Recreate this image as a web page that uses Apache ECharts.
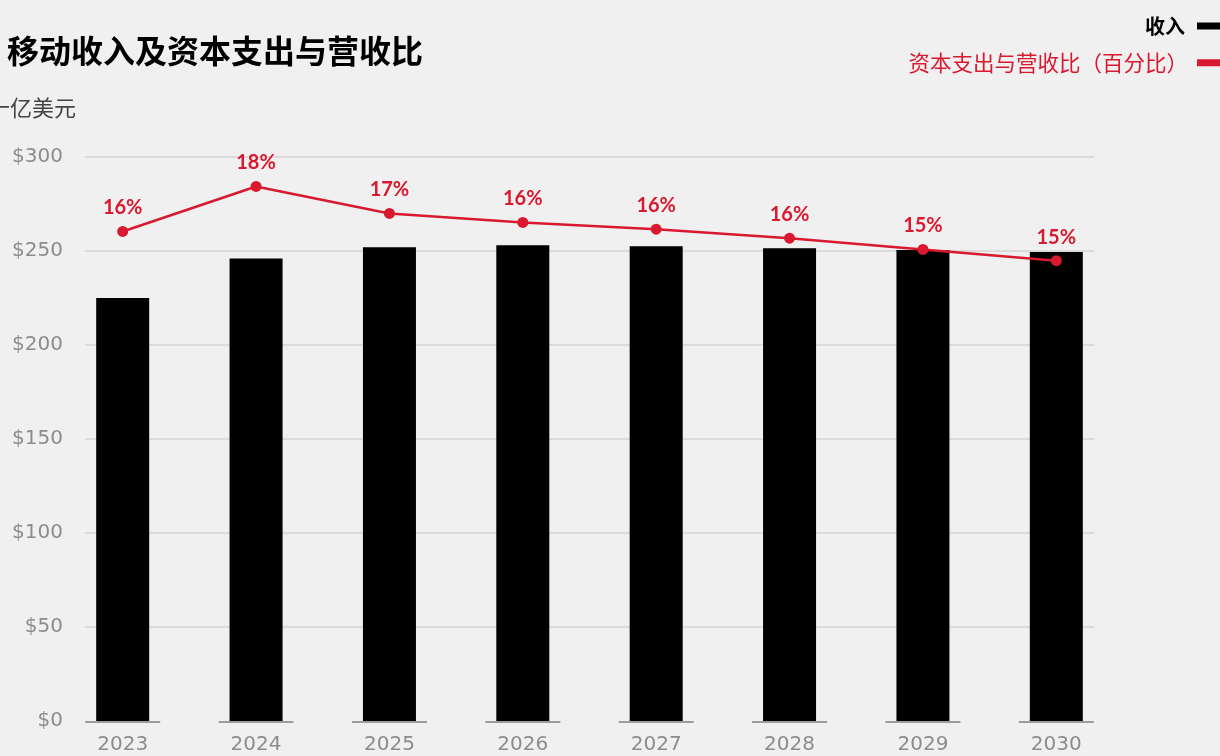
<!DOCTYPE html>
<html>
<head>
<meta charset="utf-8">
<style>
  html, body { margin: 0; padding: 0; background: #f0f0f0; }
  #chart { width: 1220px; height: 756px; }
</style>
<script src="https://cdn.jsdelivr.net/npm/echarts@6/dist/echarts.min.js"></script>
</head>
<body>
<div id="chart"></div>
<script>
// Years on the category axis
const years = ['2023', '2024', '2025', '2026', '2027', '2028', '2029', '2030'];
// Mobile revenue, billions of US dollars
const revenue = [225, 246, 252, 253, 252.5, 251.5, 250.5, 249.5];
// Capex as a share of revenue, percent
const capexRatio = [16.0, 18.0, 16.8, 16.4, 16.1, 15.7, 15.2, 14.7];
// Left axis ticks
const revenueTicks = { min: 0, max: 300, step: 50 };

const RED = '#d8192f';
const GREY_TEXT = '#8c8c8c';
const REVENUE_NAME = '收入';
const RATIO_NAME = '资本支出与营收比（百分比）';

const chart = echarts.init(document.getElementById('chart'), null, { renderer: 'canvas' });

const gridTop = 157;
const gridBottom = 35;

chart.setOption({
  backgroundColor: '#f0f0f0',
  animation: false,
  title: [
    {
      text: '移动收入及资本支出与营收比',
      left: 2, top: 30,
      textStyle: { fontFamily: 'Noto Sans CJK SC', fontWeight: 'bold', fontSize: 32, color: '#000' }
    },
    {
      text: '十亿美元',
      left: -17, top: 92,
      textStyle: { fontFamily: 'Noto Sans CJK SC', fontWeight: 'normal', fontSize: 22, color: '#444' }
    }
  ],
  legend: [
    {
      data: [{ name: REVENUE_NAME, icon: 'rect', textStyle: { color: '#000', fontWeight: 'bold', padding: [0, 7, 0, 0] } }],
      right: -13, top: 11,
      align: 'right', itemWidth: 31, itemHeight: 7,
      selectedMode: false,
      textStyle: { fontFamily: 'Noto Sans CJK SC', fontSize: 20 }
    },
    {
      data: [{ name: RATIO_NAME, icon: 'rect', textStyle: { color: RED, padding: [0, 4, 0, 0] } }],
      right: -13, top: 47,
      align: 'right', itemWidth: 31, itemHeight: 7,
      selectedMode: false,
      textStyle: { fontFamily: 'Noto Sans CJK SC', fontSize: 21.5 }
    }
  ],
  grid: [
    // value scale with gridlines
    { left: 85, right: 126, top: gridTop, bottom: gridBottom },
    // category bands for bars and line
    { left: 56, right: 97, top: gridTop, bottom: gridBottom }
  ],
  xAxis: [
    { type: 'value', gridIndex: 0, show: false, min: 0, max: 1 },
    {
      type: 'category', gridIndex: 1, data: years,
      axisLine: { show: false }, axisTick: { show: false },
      axisLabel: { color: GREY_TEXT, fontFamily: 'DejaVu Sans', fontSize: 20, margin: 14 }
    }
  ],
  yAxis: [
    {
      type: 'value', gridIndex: 0,
      min: revenueTicks.min, max: revenueTicks.max, interval: revenueTicks.step,
      axisLine: { show: false }, axisTick: { show: false },
      axisLabel: {
        color: GREY_TEXT, fontFamily: 'DejaVu Sans', fontSize: 20, margin: 22,
        formatter: v => '$' + v
      },
      splitLine: { show: true, showMinLine: false, lineStyle: { color: '#d4d4d4', width: 1.5 } }
    },
    {
      type: 'value', gridIndex: 1, show: false,
      min: revenueTicks.min, max: revenueTicks.max, splitLine: { show: false }
    },
    {
      type: 'value', gridIndex: 1, show: false,
      min: -5.76, max: 19.31, splitLine: { show: false }
    }
  ],
  series: [
    {
      // short baseline segment under each bar
      type: 'custom', xAxisIndex: 1, yAxisIndex: 1, z: 1, silent: true,
      data: years.map((y, i) => [i, 0]),
      renderItem: (params, api) => {
        const p = api.coord([api.value(0), api.value(1)]);
        return {
          type: 'line',
          shape: { x1: p[0] - 37.5, y1: p[1] + 1, x2: p[0] + 37.5, y2: p[1] + 1 },
          style: { stroke: '#9c9c9c', lineWidth: 2 }
        };
      }
    },
    {
      name: REVENUE_NAME, type: 'bar', xAxisIndex: 1, yAxisIndex: 1, z: 2,
      data: revenue, barWidth: 53,
      itemStyle: { color: '#000' }
    },
    {
      name: RATIO_NAME, type: 'line', xAxisIndex: 1, yAxisIndex: 2, z: 3,
      data: capexRatio,
      symbol: 'circle', symbolSize: 11,
      lineStyle: { color: RED, width: 2.5 },
      itemStyle: { color: RED },
      label: {
        show: true, position: 'top', distance: 8,
        color: RED, fontFamily: 'Lato', fontWeight: 'bold', fontSize: 20,
        formatter: p => Math.round(p.value) + '%'
      }
    }
  ]
});
</script>
</body>
</html>
